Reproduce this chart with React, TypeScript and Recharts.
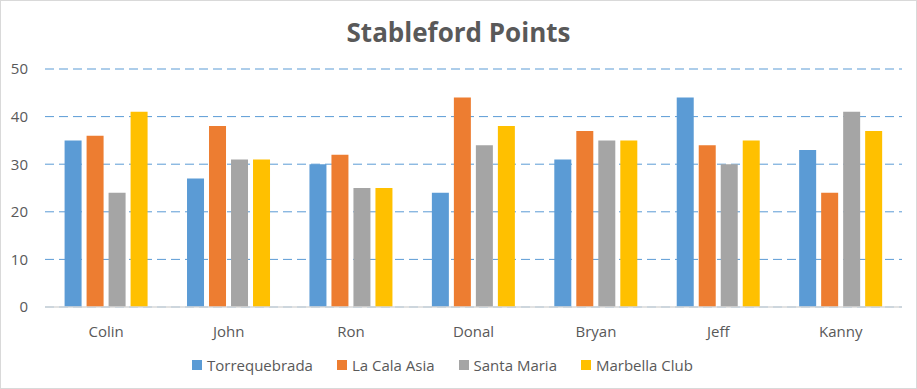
import React from 'react';
import { Bar, BarChart, CartesianGrid, ReferenceLine, XAxis, YAxis } from 'recharts';

const players = ['Colin', 'John', 'Ron', 'Donal', 'Bryan', 'Jeff', 'Kanny'];
const torrequebrada = [35, 27, 30, 24, 31, 44, 33];
const laCalaAsia = [36, 38, 32, 44, 37, 34, 24];
const santaMaria = [24, 31, 25, 34, 35, 30, 41];
const marbellaClub = [41, 31, 25, 38, 35, 35, 37];
const yTicks = [0, 10, 20, 30, 40, 50];

const series = [
  { key: 'Torrequebrada', color: '#5b9bd5', values: torrequebrada },
  { key: 'La Cala Asia', color: '#ed7d31', values: laCalaAsia },
  { key: 'Santa Maria', color: '#a5a5a5', values: santaMaria },
  { key: 'Marbella Club', color: '#ffc000', values: marbellaClub },
];

const chartData = players.map((name, i) => {
  const row: Record<string, string | number> = { name };
  series.forEach(s => {
    row[s.key] = s.values[i];
  });
  return row;
});

const textColor = '#595959';
const fontFamily = '"Open Sans", "Noto Sans", sans-serif';

const LegendBox = () => (
  <div
    style={{
      position: 'absolute',
      top: 354,
      left: 191,
      display: 'flex',
      fontSize: 15,
      lineHeight: '20px',
      color: textColor,
    }}
  >
    {series.map(s => (
      <div key={s.key} style={{ display: 'flex', alignItems: 'center', marginRight: 24 }}>
        <span style={{ width: 10, height: 10, background: s.color, display: 'inline-block', marginRight: 5 }} />
        <span>{s.key}</span>
      </div>
    ))}
  </div>
);

const App = () => {
  return (
    <div
      style={{
        position: 'absolute',
        left: 0,
        top: 0,
        width: 917,
        height: 389,
        border: '1px solid #d9d9d9',
        boxSizing: 'border-box',
        background: '#fff',
        fontFamily,
      }}
    >
      <div
        style={{
          position: 'absolute',
          top: 16,
          left: 0,
          width: 915,
          textAlign: 'center',
          fontSize: 26,
          lineHeight: '30px',
          fontWeight: 700,
          color: textColor,
        }}
      >
        Stableford Points
      </div>
      <BarChart
        width={915}
        height={387}
        data={chartData}
        margin={{ top: 68, right: 14, left: 0, bottom: 51 }}
        barCategoryGap="16%"
        barGap={5}
      >
        <CartesianGrid vertical={false} stroke="#5b9bd5" strokeDasharray="9 5" />
        <XAxis
          dataKey="name"
          height={30}
          axisLine={false}
          tickLine={false}
          tickSize={0}
          tickMargin={19}
          tick={{ fill: textColor, fontSize: 15 }}
        />
        <YAxis
          width={44}
          domain={[0, 50]}
          ticks={yTicks}
          axisLine={false}
          tickLine={false}
          tickSize={0}
          tickMargin={17}
          tick={{ fill: textColor, fontSize: 15 }}
        />
        <ReferenceLine y={0} stroke="#d9d9d9" strokeWidth={1.5} />
        {series.map(s => (
          <Bar key={s.key} dataKey={s.key} fill={s.color} isAnimationActive={false} />
        ))}
      </BarChart>
      <LegendBox />
    </div>
  );
};

export default App;
